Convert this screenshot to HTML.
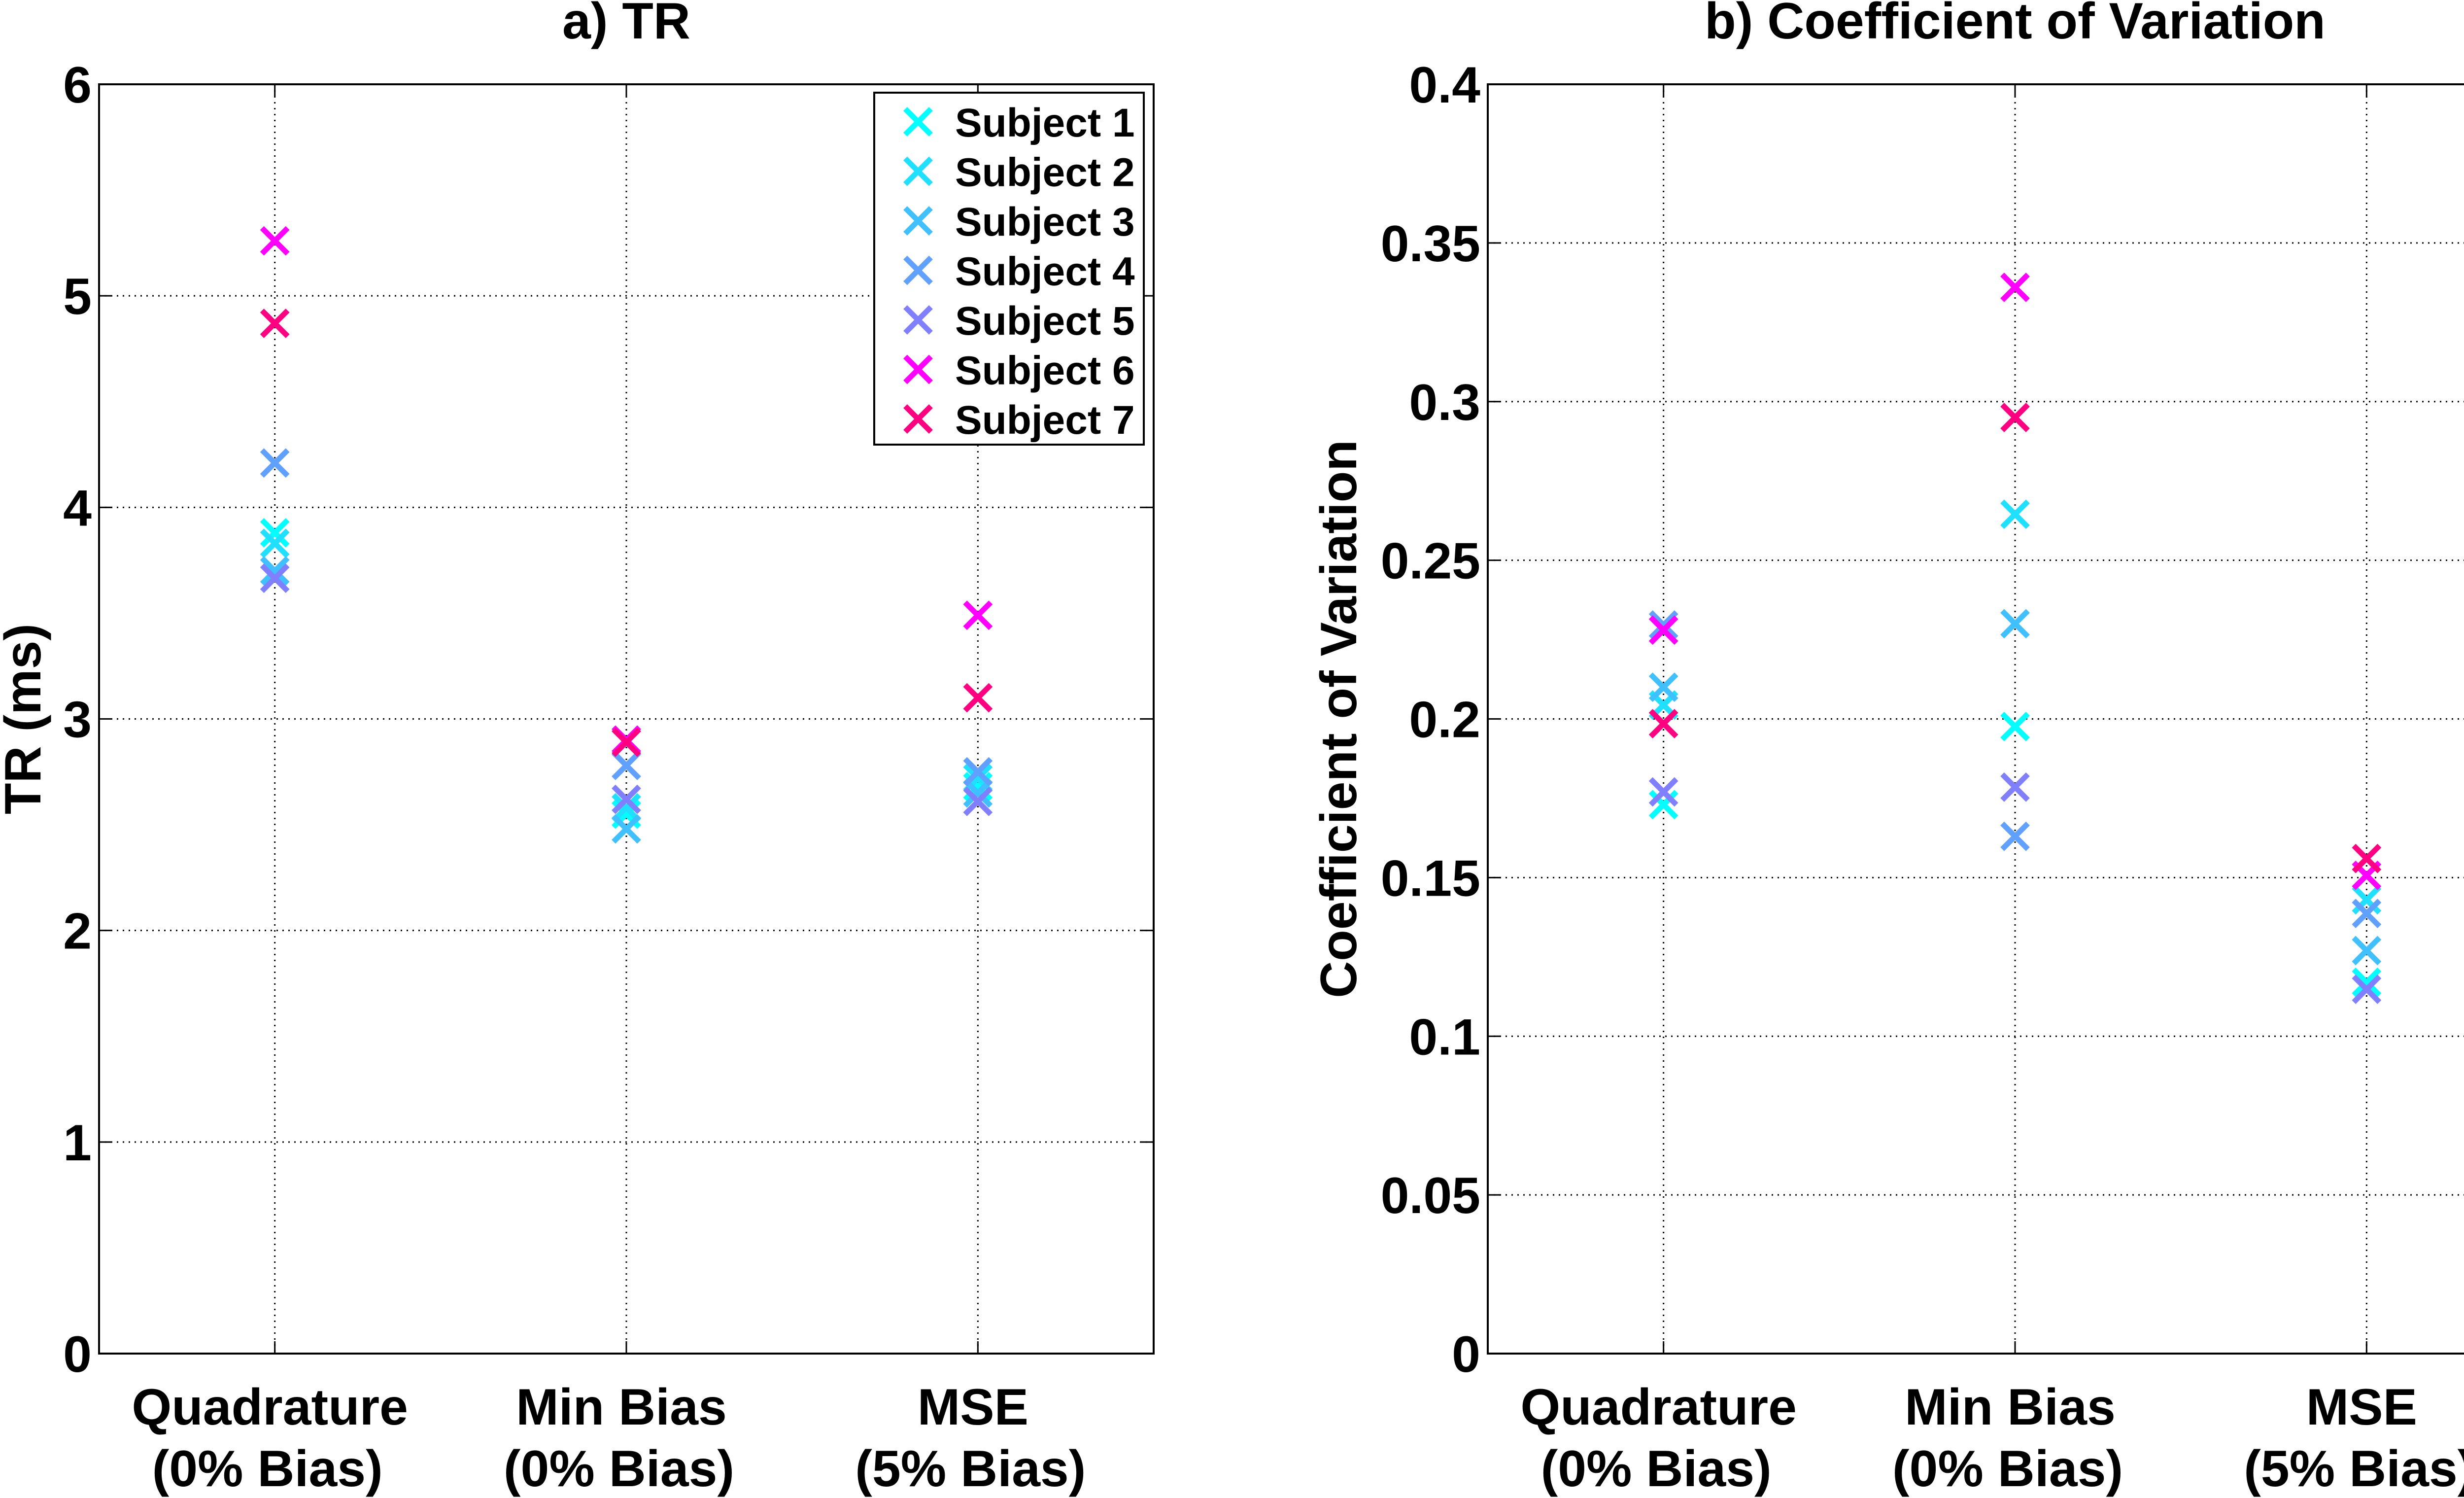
<!DOCTYPE html>
<html><head><meta charset="utf-8"><style>
html,body{margin:0;padding:0;background:#fff;width:5162px;height:3039px;overflow:hidden;}
svg{display:block;font-family:"Liberation Sans",Arial,sans-serif;font-weight:bold;}
</style></head><body>
<svg id="chart" xmlns="http://www.w3.org/2000/svg" width="5162" height="3039" viewBox="0 0 5162 3039"></svg>
<script>
const categories = ["Quadrature|(0% Bias)", "Min Bias|(0% Bias)", "MSE|(5% Bias)"];
const subjects = ["Subject 1","Subject 2","Subject 3","Subject 4","Subject 5","Subject 6","Subject 7"];
const colors = ["#00ffff","#20e0ff","#40c0ff","#60a0ff","#8080ff","#ff00ff","#ff0080"];
// TR (ms), per subject: [Quadrature, Min Bias, MSE]
const trS1 = [3.88, 2.55, 2.68];
const trS2 = [3.83, 2.58, 2.72];
const trS3 = [3.70, 2.48, 2.65];
const trS4 = [4.21, 2.78, 2.75];
const trS5 = [3.665, 2.62, 2.61];
const trS6 = [5.26, 2.90, 3.49];
const trS7 = [4.87, 2.89, 3.10];
// Coefficient of variation
const cvS1 = [0.173, 0.1976, 0.117];
const cvS2 = [0.2044, 0.2645, 0.143];
const cvS3 = [0.210, 0.230, 0.127];
const cvS4 = [0.2296, 0.163, 0.1387];
const cvS5 = [0.177, 0.1785, 0.1148];
const cvS6 = [0.228, 0.336, 0.1507];
const cvS7 = [0.1985, 0.295, 0.156];
const trTicks = ["0","1","2","3","4","5","6"];
const cvTicks = ["0","0.05","0.1","0.15","0.2","0.25","0.3","0.35","0.4"];

const NS="http://www.w3.org/2000/svg";
const svg=document.getElementById('chart');
function mk(tag,attrs,parent,text){const e=document.createElementNS(NS,tag);for(const k in attrs)e.setAttribute(k,attrs[k]);if(text!==undefined)e.textContent=text;(parent||svg).appendChild(e);return e;}

function drawX(g,cx,cy,col){
  const h=26;
  return mk('path',{d:`M${cx-h},${cy-h}L${cx+h},${cy+h}M${cx-h},${cy+h}L${cx+h},${cy-h}`,stroke:col,'stroke-width':11,fill:'none'},g);
}

function panel(opts){
  const {x0,x1,y0,y1,ymax,ticks,series,title,ylabel,ylabelX,tickRight,name}=opts;
  const g=mk('g',{});
  
  
  const xs=i=>x0+(x1-x0)*(i+1-0.5)/3;
  const ys=v=>y1-(y1-y0)*v/ymax;
  const grid=mk('g',{},g);
  
  
  ticks.forEach(t=>{const v=parseFloat(t);const y=ys(v);if(v>0&&v<ymax)mk('line',{x1:x0,x2:x1,y1:y,y2:y,stroke:'#000','stroke-width':3,'stroke-dasharray':'3 9'},grid);});
  categories.forEach((c,i)=>{const x=xs(i);mk('line',{x1:x,x2:x,y1:y0,y2:y1,stroke:'#000','stroke-width':3,'stroke-dasharray':'3 9'},grid);});
  const box=mk('rect',{x:x0,y:y0,width:x1-x0,height:y1-y0,fill:'none',stroke:'#000','stroke-width':4},g);
  
  
  ticks.forEach(t=>{const y=ys(parseFloat(t));
    mk('line',{x1:x0,x2:x0+25,y1:y,y2:y,stroke:'#000','stroke-width':3},g);
    mk('line',{x1:x1,x2:x1-25,y1:y,y2:y,stroke:'#000','stroke-width':3},g);
    const tl=mk('text',{x:tickRight,y:y+37,'text-anchor':'end','font-size':104},g,t);
    
    
  });
  categories.forEach((c,i)=>{const x=xs(i);
    mk('line',{x1:x,x2:x,y1:y1,y2:y1-25,stroke:'#000','stroke-width':3},g);
    mk('line',{x1:x,x2:x,y1:y0,y2:y0+25,stroke:'#000','stroke-width':3},g);
    const parts=c.split('|');
    const t1=mk('text',{x:x-10,y:2890,'text-anchor':'middle','font-size':104},g,parts[0]);
    
    
    const t2=mk('text',{x:x-15,y:3015,'text-anchor':'middle','font-size':104},g,parts[1]);
    
    
  });
  const tt=mk('text',{x:(x0+x1)/2,y:78,'text-anchor':'middle','font-size':104},g,title);
  
  
  const yl=mk('text',{x:ylabelX,y:(y0+y1)/2,'text-anchor':'middle','font-size':104,transform:`rotate(-90 ${ylabelX} ${(y0+y1)/2})`},g,ylabel);
  
  
  series.forEach((vals,s)=>{
    vals.forEach((v,i)=>{
      const m=drawX(g,xs(i),ys(v),colors[s]);
      
      
    });
  });
}

panel({x0:201,x1:2341,y0:171,y1:2746,ymax:6,ticks:trTicks,series:[trS1,trS2,trS3,trS4,trS5,trS6,trS7],title:'a) TR',ylabel:'TR (ms)',ylabelX:82,tickRight:186,name:'tr-panel'});
panel({x0:3019,x1:5159,y0:171,y1:2746,ymax:0.4,ticks:cvTicks,series:[cvS1,cvS2,cvS3,cvS4,cvS5,cvS6,cvS7],title:'b) Coefficient of Variation',ylabel:'Coefficient of Variation',ylabelX:2752,tickRight:3004,name:'cv-panel'});

const lg=mk('g',{});


mk('rect',{x:1774,y:188,width:547,height:714,fill:'#fff',stroke:'#000','stroke-width':4},lg);
subjects.forEach((s,i)=>{
  const y=247+i*100.5;
  const e=mk('g',{},lg);
  
  
  drawX(e,1863,y,colors[i]);
  mk('text',{x:1938,y:y+30,'font-size':82},e,s);
});
</script>
</body></html>
